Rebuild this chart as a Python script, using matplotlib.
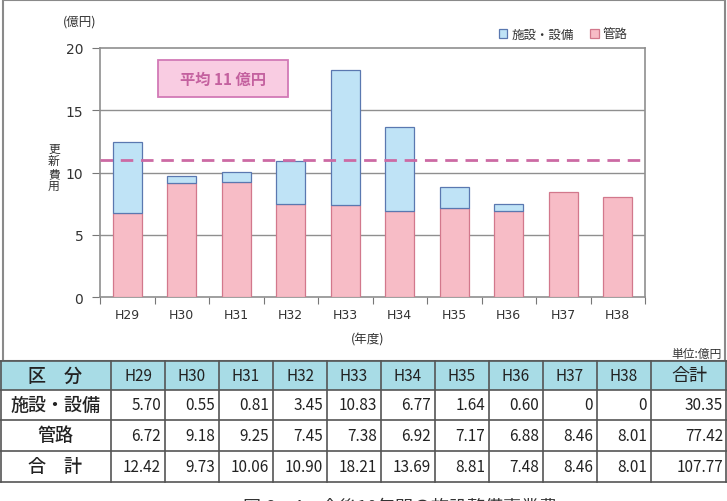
import matplotlib
matplotlib.use('Agg')
import matplotlib.pyplot as plt
from matplotlib.patches import Rectangle
from matplotlib.lines import Line2D

plt.rcParams['font.family'] = ['Noto Sans CJK JP', 'DejaVu Sans']

# data
years = ['H29', 'H30', 'H31', 'H32', 'H33', 'H34', 'H35', 'H36', 'H37', 'H38']
facility = [5.70, 0.55, 0.81, 3.45, 10.83, 6.77, 1.64, 0.60, 0, 0]
pipes = [6.72, 9.18, 9.25, 7.45, 7.38, 6.92, 7.17, 6.88, 8.46, 8.01]
totals = [12.42, 9.73, 10.06, 10.90, 18.21, 13.69, 8.81, 7.48, 8.46, 8.01]
sum_facility = '30.35'
sum_pipes = '77.42'
sum_total = '107.77'
average = 11
yticks = [0, 5, 10, 15, 20]

W, H = 727, 502
fig = plt.figure(figsize=(W / 100, H / 100), dpi=100)

def fx(px):
    return px / W

def fy(py):
    return 1 - py / H

# outer frame around the chart part
fig.patches.append(Rectangle((fx(3), fy(362)), fx(722), 361 / H, transform=fig.transFigure,
                             fill=False, edgecolor='#8a8a8a', lw=1.5))

ax = fig.add_axes([fx(100), fy(298), fx(545), 249 / H])
x = list(range(len(years)))
blue_fill, blue_edge = '#bfe3f6', '#5a78b0'
pink_fill, pink_edge = '#f7bcc6', '#d2788c'
ax.bar(x, pipes, width=0.54, color=pink_fill, edgecolor=pink_edge, lw=0.9, zorder=3)
ax.bar([xi for xi, f in zip(x, facility) if f > 0], [f for f in facility if f > 0], width=0.54,
       bottom=[p for p, f in zip(pipes, facility) if f > 0],
       color=blue_fill, edgecolor=blue_edge, lw=0.9, zorder=3)
ax.axhline(average, color='#cc6aa4', lw=2.0, dashes=(4.5, 2.8), zorder=4)

ax.set_xlim(-0.5, 9.5)
ax.set_ylim(0, 20)
for yv in yticks[1:-1]:
    ax.axhline(yv, color='#8f8f8f', lw=1.0, zorder=1)
for s in ax.spines.values():
    s.set_color('#8f8f8f')
    s.set_linewidth(1.2)

ax.set_yticks(yticks)
ax.set_yticklabels([str(v) for v in yticks], family='DejaVu Sans', fontsize=10, color='#333333')
ax.tick_params(axis='y', direction='out', length=6, color='#777777', pad=6)
ax.set_xticks([i - 0.5 for i in range(len(years) + 1)])
ax.set_xticklabels([])
ax.tick_params(axis='x', direction='out', length=5, color='#777777')
for xi, yr in zip(x, years):
    ax.text(xi, -1.4, yr, ha='center', va='center', fontsize=9, family='DejaVu Sans', color='#333333')

fig.text(fx(80), fy(22), '(億円)', ha='center', va='center', fontsize=9, color='#333333')
fig.text(fx(54), fy(168), '更\n新\n費\n用', ha='center', va='center', fontsize=8.5,
         color='#333333', linespacing=0.95)
fig.text(fx(368), fy(340), '(年度)', ha='center', va='center', fontsize=9, color='#333333')

# average box
fig.patches.append(Rectangle((fx(158), fy(98)), fx(130), 37 / H, transform=fig.transFigure,
                             facecolor='#f9cce2', edgecolor='#d27ab6', lw=1.3))
fig.text(fx(223), fy(80), '平均 11 億円', ha='center', va='center', fontsize=11,
         fontweight='bold', color='#c4619f')

# legend
handles = [Rectangle((0, 0), 1, 1, facecolor=blue_fill, edgecolor=blue_edge, lw=0.9),
           Rectangle((0, 0), 1, 1, facecolor=pink_fill, edgecolor=pink_edge, lw=0.9)]
fig.legend(handles, ['施設・設備', '管路'], loc='center', bbox_to_anchor=(fx(563), fy(35)),
           ncol=2, frameon=False, fontsize=9, handlelength=0.7, handleheight=0.7,
           handletextpad=0.3, columnspacing=1.3, labelcolor='#333333')

fig.text(fx(722), fy(354), '単位:億円', ha='right', va='center', fontsize=8.5, color='#333333')

# table
col_w = [111] + [54] * 10 + [76]
row_y = [362, 391, 421, 452, 483]
headers = ['区　分'] + years + ['合計']
rows = [
    ['施設・設備'] + ['%.2f' % v if v else '0' for v in facility] + [sum_facility],
    ['管路'] + ['%.2f' % v for v in pipes] + [sum_pipes],
    ['合　計'] + ['%.2f' % v for v in totals] + [sum_total],
]
edges = [0]
for w in col_w:
    edges.append(edges[-1] + w)
fig.patches.append(Rectangle((0, fy(row_y[1])), 1, (row_y[1] - row_y[0]) / H,
                             transform=fig.transFigure, facecolor='#a8dce6', edgecolor='none'))
for yy in row_y:
    fig.add_artist(Line2D([0, 1], [fy(yy), fy(yy)], color='#555555', lw=1.2))
for xx in edges:
    xx = min(max(xx, 0.6), W - 0.6)
    fig.add_artist(Line2D([fx(xx), fx(xx)], [fy(row_y[0]), fy(row_y[-1])], color='#555555', lw=1.2))

all_rows = [headers] + rows
for r, cells in enumerate(all_rows):
    yc = fy((row_y[r] + row_y[r + 1]) / 2)
    for c, txt in enumerate(cells):
        if r == 0 or c == 0:
            fs = 13 if c == 0 else 11
            if r == 0 and c == len(cells) - 1:
                fs = 13
            fig.text(fx((edges[c] + edges[c + 1]) / 2), yc, txt, ha='center', va='center',
                     fontsize=fs, color='#222222', fontweight='medium' if c == 0 else 'normal')
        else:
            fig.text(fx(edges[c + 1] - 4), yc, txt, ha='right', va='center', fontsize=11,
                     color='#222222')

fig.text(fx(400), fy(507), '図 6－4　今後10年間の施設整備事業費', ha='center', va='center',
         fontsize=13, color='#333333')

fig.savefig('out.png', dpi=100)
